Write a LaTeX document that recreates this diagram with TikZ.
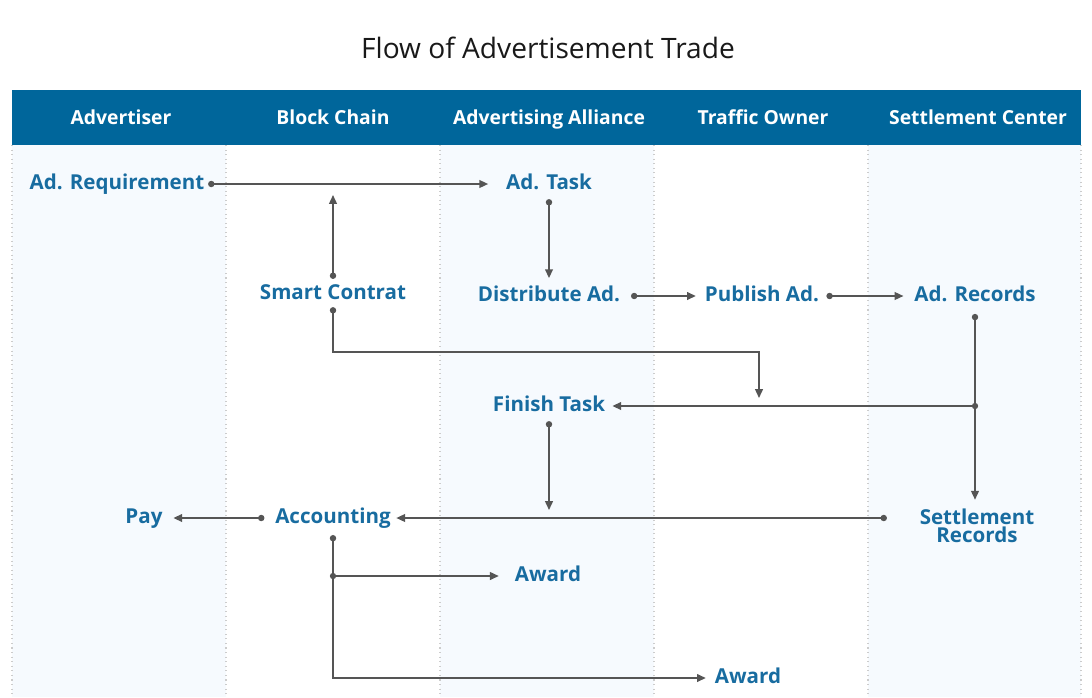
\documentclass[tikz,border=0pt]{standalone}
\usepackage{fontspec}
\setmainfont{Open Sans}
\usetikzlibrary{arrows.meta,calc}
\definecolor{bandblue}{RGB}{0,102,155}
\definecolor{labelblue}{RGB}{24,108,160}
\definecolor{lanetint}{RGB}{246,250,254}
\definecolor{wiregrey}{RGB}{85,85,85}
\tikzset{
	lbltext/.style={text=labelblue, font=\bfseries\fontsize{11.7}{10.5}\selectfont, inner sep=1pt},
	lbl/.style={lbltext, text height=8pt, text depth=2pt},
	hdr/.style={text=white, font=\bfseries\fontsize{11}{12}\selectfont, text height=8pt, text depth=2pt},
	lanesep/.style={draw=black!20, dotted, line width=0.6pt},
	flow/.style={draw=wiregrey, line width=0.9pt, {Circle[length=3.6pt]}-{Triangle[length=5pt,width=4.4pt]}},
	tip/.style={draw=wiregrey, line width=0.9pt, -{Triangle[length=5pt,width=4.4pt]}}
}

\begin{document}
\begin{tikzpicture}[x=0.02cm, y=-0.02cm]
			%%%%% START %%%%%
			\useasboundingbox (0, 0) rectangle (1092, 697);
			
			\node[text=black!90, font=\fontsize{16}{18}\selectfont] (title) at (548, 48) {Flow of Advertisement Trade};
			
			% lanes
			\fill[lanetint] (12, 145) rectangle (226, 697);
			\fill[lanetint] (440, 145) rectangle (654, 697);
			\fill[lanetint] (868, 145) rectangle (1081, 697);
			\draw[lanesep] (12, 145) -- (12, 697);
			\draw[lanesep] (226, 145) -- (226, 697);
			\draw[lanesep] (440, 145) -- (440, 697);
			\draw[lanesep] (654, 145) -- (654, 697);
			\draw[lanesep] (868, 145) -- (868, 697);
			\draw[lanesep] (1081, 145) -- (1081, 697);
			
			% header
			\fill[bandblue] (12, 90) rectangle (1081, 145);
			\node[hdr] (hAdv) at (121, 119) {Advertiser};
			\node[hdr] (hChain) at (333, 119) {Block Chain};
			\node[hdr] (hAlli) at (549, 119) {Advertising Alliance};
			\node[hdr] (hTraf) at (763, 119) {Traffic Owner};
			\node[hdr] (hSett) at (978, 119) {Settlement Center};
			
			% steps
			\node[lbl] (req) at (117, 184) {Ad. Requirement};
			\node[lbl] (task) at (549, 184) {Ad. Task};
			\node[lbl] (contract) at (333, 294) {Smart Contrat};
			\node[lbl] (distrib) at (549, 296) {Distribute Ad.};
			\node[lbl] (publish) at (762, 296) {Publish Ad.};
			\node[lbl] (records) at (975, 296) {Ad. Records};
			\node[lbl] (finish) at (549, 406) {Finish Task};
			\node[lbl] (pay) at (144, 518) {Pay};
			\node[lbl] (account) at (333, 518) {Accounting};
			\node[lbltext, align=center] (settle) at (977, 526) {Settlement\\Records};
			\node[lbl] (awardA) at (548, 576) {Award};
			\node[lbl] (awardB) at (748, 678) {Award};
			
			\coordinate (contractUp) at (333, 195);
			\coordinate (contractBend) at (759, 352);
			\coordinate (contractHit) at (759, 398);
			\coordinate (finishHit) at (545, 510);
			
			% connectors
			\draw[flow, shorten <=1pt, shorten >=9pt] (req.east) -- (task.west);
			\draw[flow, shorten <=2.4pt] (contract.north) -- (contractUp);
			\draw[flow, shorten <=2.4pt, shorten >=4pt] (task.south) -- (distrib.north);
			\draw[flow, shorten <=5pt, shorten >=4pt] (distrib.east) -- (publish.west);
			\draw[flow, shorten <=3pt, shorten >=5pt] (publish.east) -- (records.west);
			\draw[flow, shorten <=4pt, shorten >=4pt] (records.south) -- (records.south |- settle.north);
			\fill[wiregrey] (records.south |- finish.east) circle (1.8pt);
			\draw[tip, shorten >=3pt] (records.south |- finish.east) -- (finish.east);
			\draw[flow, shorten <=1.3pt] (contract.south) |- (contractBend) -- (contractHit);
			\draw[flow, shorten <=2.4pt] (finish.south) -- (finish.south |- finishHit);
			\draw[flow, shorten <=17.5pt, shorten >=2pt] (settle.west |- account.east) -- (account.east);
			\draw[flow, shorten <=5pt, shorten >=5pt] (account.west) -- (pay.east);
			\draw[flow, shorten <=3.5pt, shorten >=4pt] (account.south) |- (awardB.west);
			\fill[wiregrey] (account.south |- awardA.west) circle (1.8pt);
			\draw[tip, shorten >=8pt] (account.south |- awardA.west) -- (awardA.west);
			
			%%%%% END %%%%%
\end{tikzpicture}
\end{document}
